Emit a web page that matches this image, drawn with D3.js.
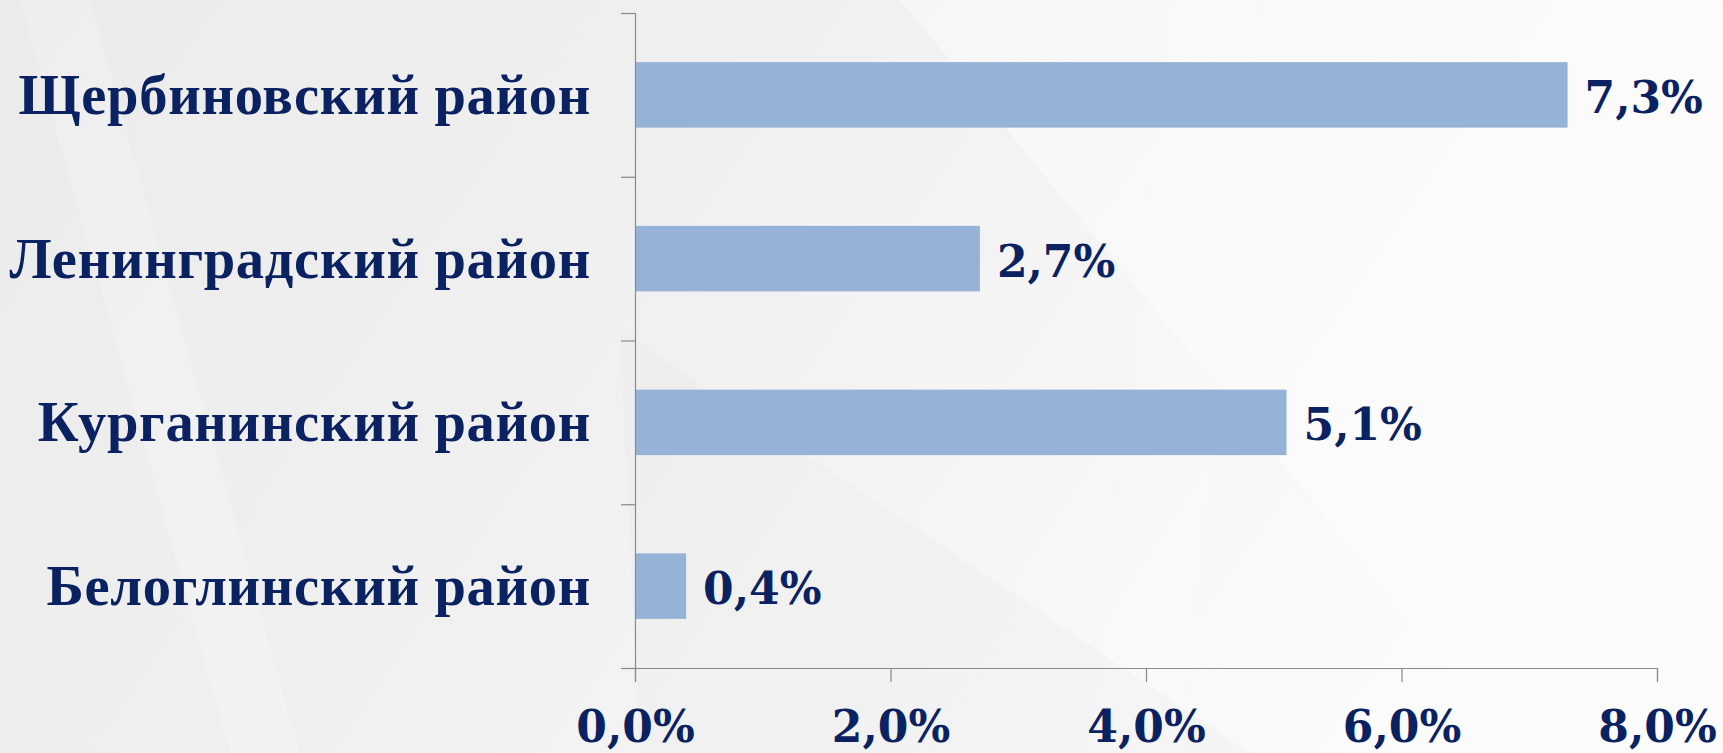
<!DOCTYPE html>
<html><head><meta charset="utf-8">
<script src="https://cdn.jsdelivr.net/npm/d3@7/dist/d3.min.js"></script>
<style>html,body{margin:0;padding:0;overflow:hidden;background:#f2f2f2}</style>
</head><body>
<svg id="chart" width="1723" height="753"></svg>
<script>
const categories = ["Щербиновский район","Ленинградский район","Курганинский район","Белоглинский район"];
const values = [7.3, 2.7, 5.1, 0.4];
const tickValues = [0, 2, 4, 6, 8];
const tickLabels = ["0,0%","2,0%","4,0%","6,0%","8,0%"];

(function(){
const W = 1723, H = 753;
const svg = d3.select("#chart");
const defs = svg.append("defs");
const g0 = defs.append("linearGradient").attr("id","bg").attr("x1","0").attr("y1","0").attr("x2","1").attr("y2","0.3");
g0.append("stop").attr("offset","0").attr("stop-color","#ebebeb");
g0.append("stop").attr("offset","0.45").attr("stop-color","#f0f0f0");
g0.append("stop").attr("offset","1").attr("stop-color","#fbfbfb");
svg.append("rect").attr("width",W).attr("height",H).attr("fill","url(#bg)");
const shapes = [
  {pts:[[20,0],[90,0],[300,753],[230,753]], c:"#ffffff", o:0.18},
  {pts:[[900,0],[1723,0],[1723,753],[1520,753]], c:"#ffffff", o:0.4},
  {pts:[[620,330],[1250,753],[640,753]], c:"#e9e9e9", o:0.25},
  {pts:[[1170,0],[1260,0],[1180,753],[1090,753]], c:"#ffffff", o:0.15}
];
svg.selectAll("polygon.bgs").data(shapes).enter().append("polygon")
  .attr("points", d => d.pts.map(p => p.join(",")).join(" "))
  .attr("fill", d => d.c).attr("opacity", d => d.o);

const pLeft = 635, pRight = 1657, pTop = 13, pBottom = 668;
const x = d3.scaleLinear().domain([0, 8]).range([pLeft, pRight]);
const y = d3.scaleBand().domain(categories).range([pTop, pBottom]).paddingInner(0.6).paddingOuter(0.3);
const yEdge = d3.scaleLinear().domain([0, categories.length]).range([pTop, pBottom]);

const navy = "#0b2262";
const locale = d3.formatLocale({decimal: ",", thousands: " ", grouping: [3], currency: ["", ""]});
const fmt = locale.format(".1f");

svg.selectAll("rect.bar").data(values).enter().append("rect")
  .attr("class","bar")
  .attr("x", x(0))
  .attr("y", (d,i) => y(categories[i]))
  .attr("width", d => x(d) - x(0))
  .attr("height", y.bandwidth())
  .attr("fill", "#95b3d7");

const ya = svg.append("g").attr("transform", `translate(${pLeft},0)`)
  .call(d3.axisLeft(yEdge).tickValues(d3.range(categories.length + 1)).tickSize(14).tickFormat(""));
ya.selectAll("path, line").attr("stroke", "#8a8a8a").attr("stroke-width", 1.2);

const xa = svg.append("g").attr("transform", `translate(0,${pBottom})`)
  .call(d3.axisBottom(x).tickValues(tickValues).tickSize(14).tickFormat((d,i) => tickLabels[i]));
xa.selectAll("path, line").attr("stroke", "#8a8a8a").attr("stroke-width", 1.2);
xa.selectAll("text").attr("y", 74).attr("dy", 0)
  .attr("font-family", "'DejaVu Serif', serif").attr("font-weight", "bold")
  .attr("font-size", 44).attr("fill", navy);

svg.selectAll("text.cat").data(categories).enter().append("text")
  .attr("class","cat")
  .attr("x", 591)
  .attr("y", d => y(d) + y.bandwidth()/2 + 19)
  .attr("text-anchor", "end")
  .attr("font-family", "'Liberation Serif', 'Times New Roman', serif")
  .attr("font-weight", "bold").attr("font-size", 56.5).attr("fill", navy)
  .attr("letter-spacing", 0.7)
  .text(d => d);

svg.selectAll("text.val").data(values).enter().append("text")
  .attr("class","val")
  .attr("x", d => x(d) + 17)
  .attr("y", (d,i) => y(categories[i]) + y.bandwidth()/2 + 18)
  .attr("font-family", "'DejaVu Serif', serif")
  .attr("font-weight", "bold").attr("font-size", 44).attr("fill", navy)
  .text(d => fmt(d) + "%");
})();
</script>
</body></html>
